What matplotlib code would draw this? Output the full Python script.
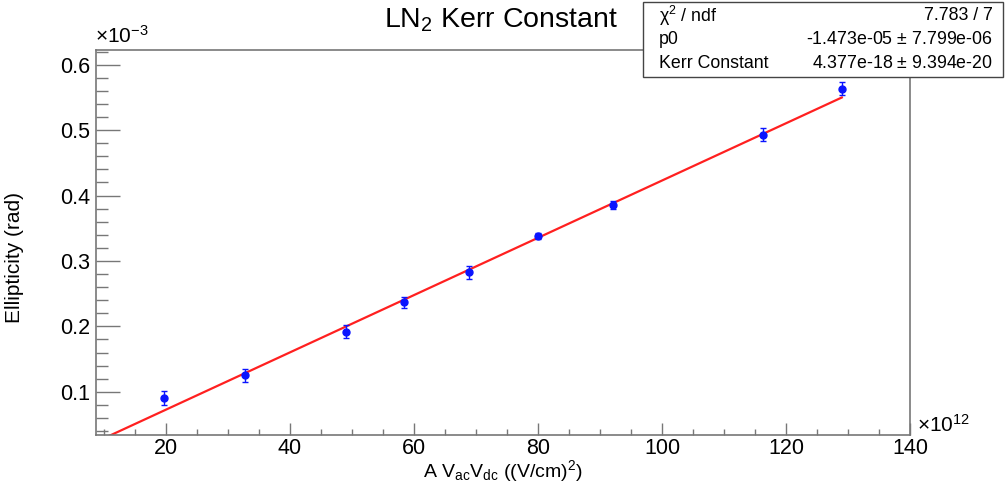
import matplotlib
matplotlib.use("Agg")
import matplotlib.pyplot as plt
from matplotlib.ticker import MultipleLocator
import numpy as np

plt.rcParams['font.family'] = ['Liberation Sans', 'DejaVu Sans']
plt.rcParams['mathtext.fontset'] = 'custom'
plt.rcParams['mathtext.rm'] = 'Liberation Sans'
plt.rcParams['mathtext.it'] = 'Liberation Sans:italic'

# data (x in units of 1e12 (V/cm)^2, y in units of 1e-3 rad)
field_sq = [19.7, 32.7, 49.0, 58.4, 68.9, 80.0, 92.1, 116.3, 129.0]
ellipticity = [0.091, 0.125, 0.192, 0.237, 0.283, 0.338, 0.386, 0.493, 0.563]
ellip_err = [0.011, 0.010, 0.010, 0.0085, 0.010, 0.005, 0.006, 0.010, 0.010]

# fit parameters from the stats box
chi2_ndf = "7.783 / 7"
p0 = -1.473e-05
p0_err = 7.799e-06
kerr = 4.377e-18
kerr_err = 9.394e-20
fit_range = [10.0, 129.0]

fig = plt.figure(figsize=(10.05, 4.83), dpi=100)
ax = fig.add_axes([96 / 1005, 1 - 435 / 483, 814 / 1005, 385 / 483])

fx = np.array(fit_range)
fy = (p0 + kerr * fx * 1e12) * 1e3
ax.plot(fx, fy, color='#ff2020', lw=1.6, zorder=2)

ax.errorbar(field_sq, ellipticity, yerr=ellip_err, fmt='o', color='#0a14ff',
            ms=5, elinewidth=1.0, capsize=2, capthick=1.0, zorder=3)

ax.set_xlim(8.7, 140)
ax.set_ylim(0.034, 0.6225)

ax.xaxis.set_major_locator(MultipleLocator(20))
ax.xaxis.set_minor_locator(MultipleLocator(5))
ax.yaxis.set_minor_locator(MultipleLocator(0.02))
ax.set_yticks(np.arange(0.1, 0.61, 0.1))
ax.set_yticklabels(['0.1', '0.2', '0.3', '0.4', '0.5', '0.6'])

ax.tick_params(axis='x', which='major', direction='in', length=8.6, width=1,
               color='#777777', labelsize=15.5, pad=2.5, top=False)
ax.tick_params(axis='x', which='minor', direction='in', length=4.3, width=1,
               color='#777777', top=False)
ax.tick_params(axis='y', which='major', direction='in', length=17, width=1,
               color='#777777', labelsize=15.5, pad=4, right=False)
ax.tick_params(axis='y', which='minor', direction='in', length=8.6, width=1,
               color='#777777', right=False)
for sp in ax.spines.values():
    sp.set_color('#777777')
    sp.set_linewidth(1.2)

ax.set_xlabel(r'A V$_{\mathrm{ac}}$V$_{\mathrm{dc}}$ ((V/cm)$^{2}$)', fontsize=14)
ax.xaxis.set_label_coords(0.5, -0.06)
ax.set_ylabel('Ellipticity (rad)', fontsize=15)
ax.yaxis.set_label_coords(-0.088, 0.46)

fig.text(917 / 1005, 1 - 425 / 483, r'$\times$10$^{12}$', fontsize=15, va='center', ha='left')
fig.text(95 / 1005, 1 - 36 / 483, r'$\times$10$^{-3}$', fontsize=15, va='center', ha='left')

fig.text(501 / 1005, 1 - 20 / 483, r'LN$_{2}$ Kerr Constant', fontsize=20.5,
         ha='center', va='center')

# stats box
box = plt.Rectangle((643 / 1005, 1 - 77 / 483), 360 / 1005, 75 / 483,
                    transform=fig.transFigure, facecolor='white',
                    edgecolor='#444444', lw=1.0, zorder=5)
fig.patches.append(box)
rows = [('χ$^{2}$ / ndf', chi2_ndf),
        ('p0', f'{p0:.3e} $\\pm$ {p0_err:.3e}'),
        ('Kerr Constant', f'{kerr:.3e} $\\pm$ {kerr_err:.3e}')]
for i, (name, val) in enumerate(rows):
    yy = 1 - (16 + 23.5 * i) / 483
    fig.text(659 / 1005, yy, name, fontsize=12.8, va='center', ha='left', zorder=6)
    fig.text(993 / 1005, yy, val, fontsize=12.8, va='center', ha='right', zorder=6)

fig.savefig('out.png', dpi=100)
